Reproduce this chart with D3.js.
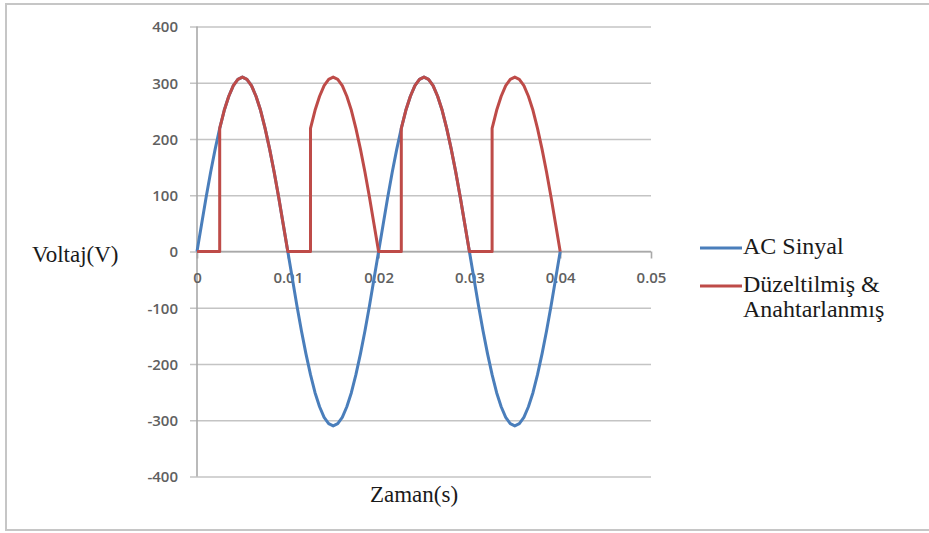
<!DOCTYPE html>
<html>
<head>
<meta charset="utf-8">
<script src="https://cdn.jsdelivr.net/npm/d3@7"></script>
<style>
  body { margin: 0; background: #ffffff; }
</style>
</head>
<body>
<div id="chart"></div>
<script>
// time samples (s), every 0.0005 s
const acTime = [
    0, 0.0005, 0.001, 0.0015, 0.002, 0.0025, 0.003, 0.0035, 0.004, 0.0045,
    0.005, 0.0055, 0.006, 0.0065, 0.007, 0.0075, 0.008, 0.0085, 0.009, 0.0095,
    0.01, 0.0105, 0.011, 0.0115, 0.012, 0.0125, 0.013, 0.0135, 0.014, 0.0145,
    0.015, 0.0155, 0.016, 0.0165, 0.017, 0.0175, 0.018, 0.0185, 0.019, 0.0195,
    0.02, 0.0205, 0.021, 0.0215, 0.022, 0.0225, 0.023, 0.0235, 0.024, 0.0245,
    0.025, 0.0255, 0.026, 0.0265, 0.027, 0.0275, 0.028, 0.0285, 0.029, 0.0295,
    0.03, 0.0305, 0.031, 0.0315, 0.032, 0.0325, 0.033, 0.0335, 0.034, 0.0345,
    0.035, 0.0355, 0.036, 0.0365, 0.037, 0.0375, 0.038, 0.0385, 0.039, 0.0395,
    0.04
]
const acVolt = [
    0, 48, 96, 141, 182, 219, 251, 276, 295, 306,
    310, 306, 295, 276, 251, 219, 182, 141, 96, 48,
    0, -48, -96, -141, -182, -219, -251, -276, -295, -306,
    -310, -306, -295, -276, -251, -219, -182, -141, -96, -48,
    0, 48, 96, 141, 182, 219, 251, 276, 295, 306,
    310, 306, 295, 276, 251, 219, 182, 141, 96, 48,
    0, -48, -96, -141, -182, -219, -251, -276, -295, -306,
    -310, -306, -295, -276, -251, -219, -182, -141, -96, -48,
    0
]

// rectified & switched (switch closes 0.0025 s after each zero crossing)
const rectTime = [
    0, 0.0025, 0.0025, 0.003, 0.0035, 0.004, 0.0045, 0.005, 0.0055, 0.006, 0.0065, 0.007, 0.0075, 0.008, 0.0085, 0.009, 0.0095, 0.01,
    0.0125, 0.0125, 0.013, 0.0135, 0.014, 0.0145, 0.015, 0.0155, 0.016, 0.0165, 0.017, 0.0175, 0.018, 0.0185, 0.019, 0.0195, 0.02,
    0.0225, 0.0225, 0.023, 0.0235, 0.024, 0.0245, 0.025, 0.0255, 0.026, 0.0265, 0.027, 0.0275, 0.028, 0.0285, 0.029, 0.0295, 0.03,
    0.0325, 0.0325, 0.033, 0.0335, 0.034, 0.0345, 0.035, 0.0355, 0.036, 0.0365, 0.037, 0.0375, 0.038, 0.0385, 0.039, 0.0395, 0.04
]
const rectVolt = [
    0, 0, 219, 251, 276, 295, 306, 310, 306, 295, 276, 251, 219, 182, 141, 96, 48, 0,
    0, 219, 251, 276, 295, 306, 310, 306, 295, 276, 251, 219, 182, 141, 96, 48, 0,
    0, 219, 251, 276, 295, 306, 310, 306, 295, 276, 251, 219, 182, 141, 96, 48, 0,
    0, 219, 251, 276, 295, 306, 310, 306, 295, 276, 251, 219, 182, 141, 96, 48, 0
]

const xTicks = [0, 0.01, 0.02, 0.03, 0.04, 0.05]
const xTickLabels = ['0', '0.01', '0.02', '0.03', '0.04', '0.05']
const yTicks = [-400, -300, -200, -100, 0, 100, 200, 300, 400]
const yTickLabels = ['-400', '-300', '-200', '-100', '0', '100', '200', '300', '400']
const seriesNames = ['AC Sinyal', 'Düzeltilmiş &\nAnahtarlanmış']
const seriesColors = ['#4a7ebb', '#be4b48']

const width = 929, height = 533
const plot = { left: 197, right: 651, top: 26.5, bottom: 476.5 }

const xScale = d3.scaleLinear().domain([0, 0.05]).range([plot.left, plot.right])
const yScale = d3.scaleLinear().domain([-400, 400]).range([plot.bottom, plot.top])

const tickFont = '"Open Sans", sans-serif'
const serifFont = '"Liberation Serif", "Times New Roman", "DejaVu Serif", serif'

const svg = d3.select('#chart').append('svg')
              .attr('width', width)
              .attr('height', height)
              .style('display', 'block')

// chart frame (right edge runs off the picture)
svg.append('rect')
   .attr('x', 6).attr('y', 4)
   .attr('width', 980).attr('height', 526)
   .attr('fill', '#ffffff')
   .attr('stroke', '#c6c6c6')
   .attr('stroke-width', 2)

// horizontal grid lines + y tick labels
const yAxis = svg.append('g')
                 .attr('transform', `translate(${plot.left}, 0)`)
                 .call(d3.axisLeft(yScale)
                         .tickValues(yTicks)
                         .tickSize(-(plot.right - plot.left))
                         .tickPadding(19)
                         .tickFormat((d, i) => yTickLabels[i]))
yAxis.select('.domain').remove()
yAxis.selectAll('.tick line')
     .attr('x1', -7)
     .attr('stroke', '#c4c4c4')
     .attr('stroke-width', 1.6)
yAxis.selectAll('.tick text')
     .style('font-family', tickFont)
     .style('font-size', '15px')
     .style('font-weight', '600')
     .style('fill', '#606060')
     .attr('dy', '0.35em')

// vertical axis line
svg.append('line')
   .attr('x1', xScale(0)).attr('x2', xScale(0))
   .attr('y1', plot.top).attr('y2', plot.bottom)
   .attr('stroke', '#a9a9a9')
   .attr('stroke-width', 1.6)

// x axis through zero
const xAxis = svg.append('g')
                 .attr('transform', `translate(0, ${yScale(0)})`)
                 .call(d3.axisBottom(xScale)
                         .tickValues(xTicks)
                         .tickSize(7)
                         .tickPadding(14)
                         .tickFormat((d, i) => xTickLabels[i]))
xAxis.select('.domain')
     .attr('d', `M${plot.left},0H${plot.right}`)
     .attr('stroke', '#a9a9a9')
     .attr('stroke-width', 1.6)
xAxis.selectAll('.tick line')
     .attr('stroke', '#a9a9a9')
     .attr('stroke-width', 1.6)
xAxis.selectAll('.tick text')
     .style('font-family', tickFont)
     .style('font-size', '15px')
     .style('font-weight', '600')
     .style('fill', '#606060')

// series
const acLine = d3.line()
                 .x((d, i) => xScale(acTime[i]))
                 .y(d => yScale(d))
const rectLine = d3.line()
                   .x((d, i) => xScale(rectTime[i]))
                   .y(d => yScale(d))

svg.append('path')
   .datum(acVolt)
   .attr('d', acLine)
   .attr('fill', 'none')
   .attr('stroke', seriesColors[0])
   .attr('stroke-width', 3)
   .attr('stroke-linejoin', 'round')

svg.append('path')
   .datum(rectVolt)
   .attr('d', rectLine)
   .attr('fill', 'none')
   .attr('stroke', seriesColors[1])
   .attr('stroke-width', 3)
   .attr('stroke-linejoin', 'round')

// axis titles
svg.append('text')
   .text('Voltaj(V)')
   .attr('x', 32).attr('y', 262)
   .style('font-family', serifFont)
   .style('font-size', '23px')
   .style('fill', '#1a1a1a')

svg.append('text')
   .text('Zaman(s)')
   .attr('text-anchor', 'middle')
   .attr('x', 414).attr('y', 502)
   .style('font-family', serifFont)
   .style('font-size', '23px')
   .style('fill', '#1a1a1a')

// legend
const legendY = [248, 286]
const legend = svg.append('g')
seriesNames.forEach((name, i) => {
    legend.append('line')
          .attr('x1', 700).attr('x2', 742)
          .attr('y1', legendY[i]).attr('y2', legendY[i])
          .attr('stroke', seriesColors[i])
          .attr('stroke-width', 3)
    const t = legend.append('text')
                    .attr('x', 743).attr('y', legendY[i] + 6)
                    .style('font-family', serifFont)
                    .style('font-size', '24px')
                    .style('fill', '#1a1a1a')
    name.split('\n').forEach((part, j) => {
        t.append('tspan')
         .attr('x', 743)
         .attr('dy', j === 0 ? 0 : 25)
         .text(part)
    })
})
</script>
</body>
</html>
